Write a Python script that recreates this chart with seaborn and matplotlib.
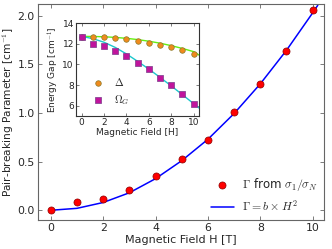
import numpy as np
import pandas as pd
import matplotlib
matplotlib.use("Agg")
import matplotlib.pyplot as plt
import seaborn as sns

# main panel: pair-breaking parameter vs field
field = [0, 1, 2, 3, 4, 5, 6, 7, 8, 9, 10]
gamma_pts = [0.0, 0.08, 0.115, 0.21, 0.355, 0.527, 0.72, 1.013, 1.296, 1.64, 2.06]
fit_field = [0, 1, 2, 3, 4, 5, 6, 7, 8, 9, 10, 10.2]
gamma_fit = [0.0, 0.02, 0.08, 0.18, 0.325, 0.51, 0.73, 0.995, 1.30, 1.645, 2.03, 2.11]

# inset: energy gaps
delta_pts = [12.68, 12.65, 12.65, 12.56, 12.43, 12.31, 12.12, 11.9, 11.65, 11.37, 11.0]
omega_pts = [12.68, 12.0, 11.81, 11.3, 10.8, 10.18, 9.57, 8.73, 7.98, 7.1, 6.2]
curve_field = [0, 1, 2, 3, 4, 5, 6, 7, 8, 9, 10, 10.5]
delta_fit = [12.72, 12.71, 12.68, 12.62, 12.53, 12.41, 12.25, 12.06, 11.82, 11.55, 11.24, 10.9]
omega_fit = [12.72, 12.5, 12.15, 11.65, 11.02, 10.3, 9.55, 8.75, 7.92, 7.07, 6.2, 5.77]

sns.set_style("ticks")
plt.rcParams["font.family"] = ["DejaVu Sans"]
plt.rcParams["mathtext.fontset"] = "cm"
plt.rcParams["xtick.direction"] = "in"
plt.rcParams["ytick.direction"] = "in"

GREY = "#666666"

fig = plt.figure(figsize=(3.32, 2.49), dpi=100)
ax = fig.add_axes([0.1136, 0.1165, 0.8634, 0.8665])

pts = pd.DataFrame({"H": field, "G": gamma_pts})
fit = pd.DataFrame({"H": fit_field, "G": gamma_fit})
sns.lineplot(data=fit, x="H", y="G", ax=ax, color="blue", lw=1.1,
             label=r"$\Gamma =b\times H^2$", zorder=2)
sns.scatterplot(data=pts, x="H", y="G", ax=ax, color="red", edgecolor="#8b0000",
                linewidth=0.5, s=26, label=r"$\Gamma$ from $\sigma_1/\sigma_N$", zorder=3)

ax.set_xlim(-0.5, 10.45)
ax.set_ylim(-0.1, 2.12)
ax.set_xticks([0, 2, 4, 6, 8, 10])
ax.set_yticks([0.0, 0.5, 1.0, 1.5, 2.0])
ax.set_yticklabels(["0.0", "0.5", "1.0", "1.5", "2.0"])
ax.set_xlabel("Magnetic Field H [T]", fontsize=8)
ax.set_ylabel(r"Pair-breaking Parameter [cm$^{-1}$]", fontsize=7.7)
ax.xaxis.set_label_coords(0.5, -0.068)
ax.yaxis.set_label_coords(-0.075, 0.5)
ax.tick_params(labelsize=7.8, top=True, right=True, color=GREY, length=3, width=0.6, pad=2)
for sp in ax.spines.values():
    sp.set_color(GREY)
    sp.set_linewidth(0.8)

h, l = ax.get_legend_handles_labels()
ax.legend(h[::-1], l[::-1], loc="lower right", frameon=False, fontsize=8.5,
          handlelength=2.0, borderaxespad=0.1, labelspacing=0.55, handletextpad=0.7)

# inset
ins = fig.add_axes([0.229, 0.534, 0.371, 0.373])
dpts = pd.DataFrame({"H": field, "D": delta_pts, "O": omega_pts})
dfit = pd.DataFrame({"H": curve_field, "D": delta_fit, "O": omega_fit})
sns.lineplot(data=dfit, x="H", y="D", ax=ins, color="#66ee11", lw=1.0, zorder=2)
sns.lineplot(data=dfit, x="H", y="O", ax=ins, color="#1cc8cc", lw=1.0, zorder=2)
sns.scatterplot(data=dpts, x="H", y="D", ax=ins, color="#f08a1c", edgecolor="#8a7a2a",
                linewidth=0.5, s=16, marker="o", label=r"$\Delta$", zorder=3)
sns.scatterplot(data=dpts, x="H", y="O", ax=ins, color="#c0149c", edgecolor="#7a3a8a",
                linewidth=0.5, s=16, marker="s", label=r"$\Omega_G$", zorder=3)

ins.set_xlim(-0.5, 10.5)
ins.set_ylim(5, 14)
ins.set_xticks([0, 2, 4, 6, 8, 10])
ins.set_yticks([6, 8, 10, 12, 14])
ins.set_xlabel("Magnetic Field [H]", fontsize=6.5, labelpad=0.5)
ins.set_ylabel(r"Energy Gap [cm$^{-1}$]", fontsize=6.5, labelpad=1)
ins.tick_params(labelsize=6.5, top=True, right=True, color=GREY, length=2.5, width=0.6, pad=1.5)
for sp in ins.spines.values():
    sp.set_color("#333333")
    sp.set_linewidth(0.8)
ins.legend(loc="lower left", frameon=False, fontsize=7.5, handletextpad=0.5,
           borderaxespad=0.5, labelspacing=0.5, bbox_to_anchor=(0.02, 0.0))

fig.savefig("out.png", dpi=100)
